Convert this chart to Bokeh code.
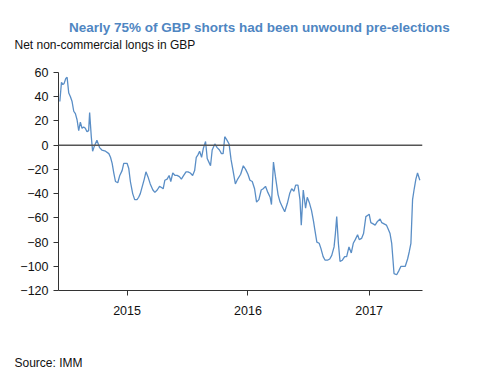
import pandas as pd
from bokeh.plotting import figure
from bokeh.layouts import column
from bokeh.models import Range1d, FixedTicker, Span, Label, DatetimeTickFormatter, ColumnDataSource
from bokeh.embed import file_html
from bokeh.resources import INLINE

title_text = "Nearly 75% of GBP shorts had been unwound pre-elections"
subtitle_text = "Net non-commercial longs in GBP"
source_text = "Source: IMM"

dates = [
    "2014-06-12", "2014-06-17", "2014-06-21", "2014-06-25", "2014-06-30", "2014-07-04",
    "2014-07-09", "2014-07-14", "2014-07-19", "2014-07-24", "2014-07-29", "2014-08-03",
    "2014-08-08", "2014-08-13", "2014-08-18", "2014-08-23", "2014-08-28", "2014-09-02",
    "2014-09-07", "2014-09-10", "2014-09-15", "2014-09-19", "2014-09-24", "2014-10-02",
    "2014-10-10", "2014-10-17", "2014-10-28", "2014-11-07", "2014-11-12", "2014-11-17",
    "2014-11-22", "2014-11-27", "2014-12-04", "2014-12-10", "2014-12-17", "2014-12-22",
    "2015-01-01", "2015-01-06", "2015-01-11", "2015-01-18", "2015-01-24", "2015-01-31",
    "2015-02-05", "2015-02-10", "2015-02-17", "2015-02-22", "2015-02-27", "2015-03-05",
    "2015-03-12", "2015-03-20", "2015-03-26", "2015-04-02", "2015-04-09", "2015-04-15",
    "2015-04-20", "2015-04-25", "2015-05-02", "2015-05-08", "2015-05-13", "2015-05-19",
    "2015-05-26", "2015-06-01", "2015-06-08", "2015-06-14", "2015-06-21", "2015-06-28",
    "2015-07-04", "2015-07-11", "2015-07-18", "2015-07-24", "2015-07-29", "2015-08-03",
    "2015-08-08", "2015-08-14", "2015-08-19", "2015-08-26", "2015-08-31", "2015-09-05",
    "2015-09-10", "2015-09-15", "2015-09-23", "2015-09-30", "2015-10-07", "2015-10-13",
    "2015-10-18", "2015-10-23", "2015-10-30", "2015-11-05", "2015-11-11", "2015-11-17",
    "2015-11-24", "2015-12-01", "2015-12-10", "2015-12-18", "2015-12-25",
    "2016-01-01", "2016-01-07", "2016-01-14", "2016-01-21", "2016-01-27", "2016-02-03",
    "2016-02-10", "2016-02-16", "2016-02-23", "2016-03-01", "2016-03-08", "2016-03-12",
    "2016-03-18", "2016-03-24", "2016-04-01", "2016-04-07", "2016-04-14", "2016-04-21",
    "2016-04-29", "2016-05-06", "2016-05-12", "2016-05-19", "2016-05-24", "2016-05-31",
    "2016-06-06", "2016-06-10", "2016-06-16", "2016-06-23", "2016-06-28", "2016-07-05",
    "2016-07-11", "2016-07-17", "2016-07-21", "2016-07-27", "2016-08-03", "2016-08-08",
    "2016-08-15", "2016-08-21", "2016-08-28", "2016-09-04", "2016-09-10", "2016-09-17",
    "2016-09-21", "2016-09-25", "2016-09-30", "2016-10-05", "2016-10-12", "2016-10-19",
    "2016-10-25", "2016-11-01", "2016-11-08", "2016-11-14", "2016-11-20", "2016-11-27",
    "2016-12-02", "2016-12-09", "2016-12-15", "2016-12-22", "2016-12-27",
    "2017-01-01", "2017-01-06", "2017-01-13", "2017-01-19", "2017-01-26", "2017-02-03",
    "2017-02-08", "2017-02-15", "2017-02-22", "2017-02-27", "2017-03-05", "2017-03-10",
    "2017-03-14", "2017-03-17", "2017-03-25", "2017-03-31", "2017-04-07", "2017-04-14",
    "2017-04-20", "2017-04-27", "2017-05-02", "2017-05-07", "2017-05-12", "2017-05-17",
    "2017-05-22", "2017-05-27", "2017-06-03",
]

net_longs = [
    36, 52, 50, 51, 55, 56,
    43, 40, 36, 28, 26, 21,
    12, 19, 14, 15, 14, 11,
    12, 27, 7, -5, -1, 4,
    -2, -4, -5, -7, -10, -15,
    -23, -30, -31, -25, -21, -15,
    -15, -19, -30, -40, -45, -45,
    -43, -40, -33, -28, -22, -26,
    -32, -37, -39, -37, -34, -35,
    -36, -29, -28, -25, -30, -23,
    -25, -25, -26, -28, -25, -22,
    -22, -23, -25, -21, -10, -8,
    -5, -10, -3, 3, -11, -14,
    -17, -4, 1, -2, -4, -7,
    -7, 7, 4, 1, -12, -21,
    -32, -28, -24, -17, -20,
    -24, -29, -30, -36, -47, -45,
    -37, -36, -34, -39, -43, -49,
    -14, -26, -41, -47, -51, -55,
    -48, -40, -36, -38, -33, -33,
    -45, -66, -37, -52, -43, -48,
    -54, -63, -70, -80, -81, -85,
    -92, -95, -95, -94, -91, -84,
    -73, -59, -81, -96, -95, -92,
    -92, -84, -89, -81, -78, -74,
    -78, -77, -73, -59, -58,
    -57, -64, -65, -66, -63, -61,
    -64, -65, -66, -69, -73, -81,
    -95, -106, -107, -104, -100, -100,
    -100, -94, -88, -81, -45, -36,
    -28, -23, -29,
]

y_ticks = [-120, -100, -80, -60, -40, -20, 0, 20, 40, 60]
year_ticks = ["2015-01-01", "2016-01-01", "2017-01-01"]
x_start, x_end = "2014-06-08", "2017-06-11"
y_min, y_max = -120, 60

W = 481
TOP_H, MAIN_H, BOT_H = 58, 277, 40


def text_panel(height):
    f = figure(width=W, height=height, output_backend="svg", toolbar_location=None,
               x_range=Range1d(0, W), y_range=Range1d(0, height),
               x_axis_location=None, y_axis_location=None,
               min_border=0, min_border_left=0, min_border_right=0,
               min_border_top=0, min_border_bottom=0)
    f.frame_align = False
    f.outline_line_color = None
    f.xgrid.visible = False
    f.ygrid.visible = False
    f.background_fill_color = "white"
    f.border_fill_color = "white"
    return f


# header
top = text_panel(TOP_H)
top.add_layout(Label(x=259, y=TOP_H - 27, text=title_text,
                     text_align="center", text_baseline="middle",
                     text_font="Liberation Sans", text_font_style="bold",
                     text_font_size="13.5px", text_color="#4f86c2"))
top.add_layout(Label(x=14, y=TOP_H - 44, text=subtitle_text,
                     text_align="left", text_baseline="middle",
                     text_font="Liberation Sans", text_font_size="12px",
                     text_color="#111111"))

# main chart
src = ColumnDataSource(dict(date=pd.to_datetime(dates), value=net_longs))

p = figure(width=W, height=MAIN_H, output_backend="svg", toolbar_location=None,
           x_axis_type="datetime",
           x_range=Range1d(pd.Timestamp(x_start), pd.Timestamp(x_end)),
           y_range=Range1d(y_min, y_max),
           min_border_left=58, min_border_right=59, min_border_top=14, min_border_bottom=45)
p.frame_align = False
p.outline_line_color = None
p.xgrid.visible = False
p.ygrid.visible = False
p.background_fill_color = "white"
p.border_fill_color = "white"

p.add_layout(Span(location=0, dimension="width", line_color="#555555", line_width=1.5))
p.line("date", "value", source=src, line_color="#5a8ec6", line_width=1.3)

tick_font = "Liberation Sans"

p.yaxis.ticker = FixedTicker(ticks=y_ticks)
p.yaxis.axis_line_color = "#333333"
p.yaxis.major_tick_line_color = "#333333"
p.yaxis.major_tick_out = 5
p.yaxis.major_tick_in = 0
p.yaxis.minor_tick_line_color = None
p.yaxis.major_label_standoff = 5
p.yaxis.major_label_text_font = tick_font
p.yaxis.major_label_text_font_size = "12.5px"
p.yaxis.major_label_text_color = "#111111"

p.xaxis.ticker = FixedTicker(ticks=[pd.Timestamp(t).value / 1e6 for t in year_ticks])
p.xaxis.formatter = DatetimeTickFormatter(years="%Y", months="%Y", days="%Y")
p.xaxis.axis_line_color = "#333333"
p.xaxis.major_tick_line_color = "#333333"
p.xaxis.major_tick_out = 5
p.xaxis.major_tick_in = 0
p.xaxis.minor_tick_line_color = None
p.xaxis.major_label_standoff = 10
p.xaxis.major_label_text_font = tick_font
p.xaxis.major_label_text_font_size = "12.5px"
p.xaxis.major_label_text_color = "#111111"

# footer
bot = text_panel(BOT_H)
bot.add_layout(Label(x=14, y=BOT_H - 27, text=source_text,
                     text_align="left", text_baseline="middle",
                     text_font="Liberation Sans", text_font_size="12px",
                     text_color="#111111"))

layout = column(top, p, bot, spacing=0)

open("out.html", "w").write(file_html(layout, INLINE))
